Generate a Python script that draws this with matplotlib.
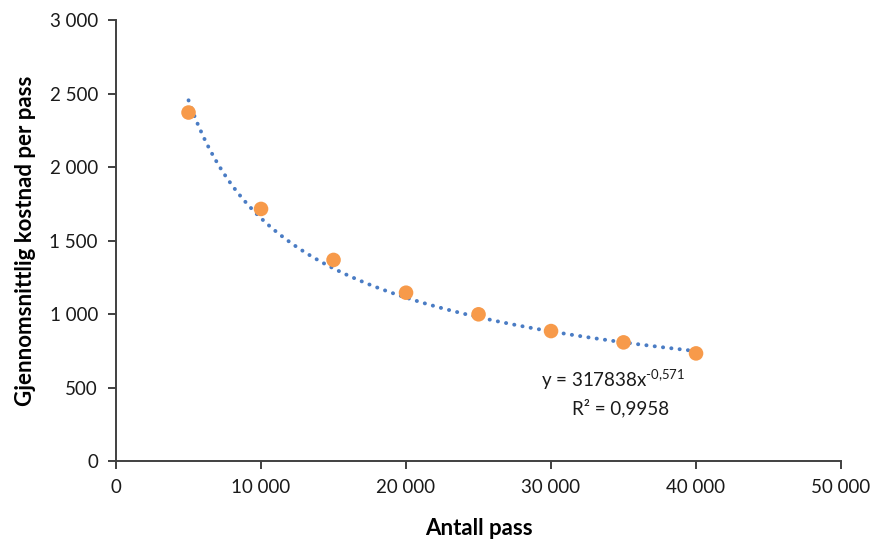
import matplotlib
matplotlib.use("Agg")
import matplotlib.pyplot as plt
import numpy as np
from matplotlib.ticker import FuncFormatter

plt.rcParams['font.family'] = ['Lato', 'DejaVu Sans']
plt.rcParams['mathtext.fontset'] = 'custom'
plt.rcParams['mathtext.rm'] = 'Lato'
plt.rcParams['mathtext.it'] = 'Lato'

antall_pass = [5000, 10000, 15000, 20000, 25000, 30000, 35000, 40000]
kostnad = [2372, 1716, 1369, 1146, 999, 885, 808, 733]
trend_a = 317838
trend_b = -0.571
r2_text = "R² = 0,9958"

fig = plt.figure(figsize=(8.77, 5.47), dpi=100)
ax = fig.add_axes([0.1323, 0.157, 0.8267, 0.806])

xt = np.linspace(min(antall_pass), max(antall_pass), 200)
ax.plot(xt, trend_a * xt ** trend_b, color='#4a7cc4', lw=2.8,
        linestyle=(0, (0.05, 2.1)), dash_capstyle='round', zorder=2)
ax.scatter(antall_pass, kostnad, s=110, color='#f79a4a', zorder=3, edgecolors='none')

ax.set_xlim(0, 50000)
ax.set_ylim(0, 3000)
ax.set_xticks(np.arange(0, 50001, 10000))
ax.set_yticks(np.arange(0, 3001, 500))
fmt = FuncFormatter(lambda v, p: f"{int(v):,}".replace(",", " "))
ax.xaxis.set_major_formatter(fmt)
ax.yaxis.set_major_formatter(fmt)

for s in ['top', 'right']:
    ax.spines[s].set_visible(False)
for s in ['left', 'bottom']:
    ax.spines[s].set_color('#404040')
    ax.spines[s].set_linewidth(1.4)
ax.tick_params(direction='out', length=6, width=1.4, color='#404040',
               labelsize=13.5, labelcolor='#1a1a1a', pad=7)

ax.set_xlabel('Antall pass', fontsize=16, fontweight='bold', labelpad=16)
ax.set_ylabel('Gjennomsnittlig kostnad per pass', fontsize=16, fontweight='bold', labelpad=10)

exp_txt = str(trend_b).replace('.', ',')
ax.text(34300, 555, f"y = {trend_a}x" + r"$^{\text{" + exp_txt + r"}}$",
        ha='center', va='center', fontsize=13.5, color='#1a1a1a')
ax.text(34800, 362, r2_text, ha='center', va='center', fontsize=13.5, color='#1a1a1a')

fig.savefig('out.png', dpi=100)
